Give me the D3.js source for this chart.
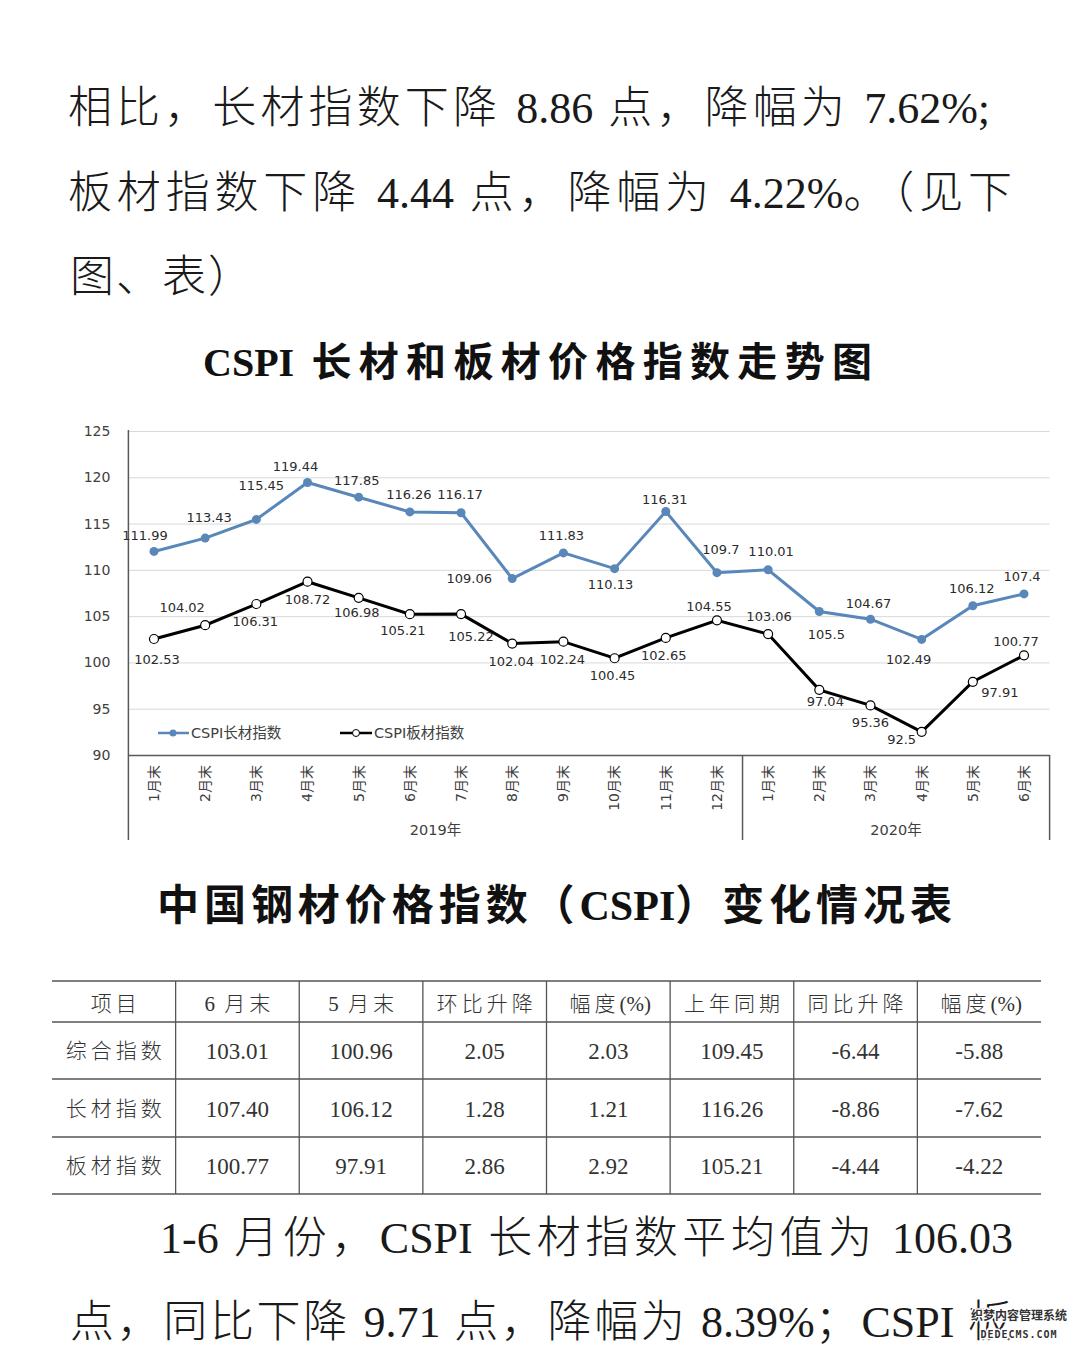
<!DOCTYPE html>
<html>
  <head>
    <meta charset="UTF-8" />
    <style>
      body {
        margin: 0;
        background: #fff;
      }
      svg {
        display: block;
      }
    </style>
  </head>
  <body>
    <svg></svg>
    <script src="https://d3js.org/d3.v7.min.js"></script>

    <script>
      let width = 1080,
        height = 1347;

      // text of the page
      const topLines = [
        "相比，长材指数下降 8.86 点，降幅为 7.62%;",
        "板材指数下降 4.44 点，降幅为 4.22%。（见下",
        "图、表）",
      ];
      const chartTitle = "CSPI 长材和板材价格指数走势图";
      const tableTitle = "中国钢材价格指数（CSPI）变化情况表";
      const bottomLines = [
        "1-6 月份，CSPI 长材指数平均值为 106.03",
        "点，同比下降 9.71 点，降幅为 8.39%；CSPI 板",
      ];

      // chart data
      const months = [
        "1月末", "2月末", "3月末", "4月末", "5月末", "6月末",
        "7月末", "8月末", "9月末", "10月末", "11月末", "12月末",
        "1月末", "2月末", "3月末", "4月末", "5月末", "6月末",
      ];
      const years = ["2019年", "2020年"];
      const yearCounts = [12, 6];
      const longIndex = [
        111.99, 113.43, 115.45, 119.44, 117.85, 116.26, 116.17, 109.06, 111.83,
        110.13, 116.31, 109.7, 110.01, 105.5, 104.67, 102.49, 106.12, 107.4,
      ];
      const flatIndex = [
        102.53, 104.02, 106.31, 108.72, 106.98, 105.21, 105.22, 102.04, 102.24,
        100.45, 102.65, 104.55, 103.06, 97.04, 95.36, 92.5, 97.91, 100.77,
      ];
      const yTicks = [90, 95, 100, 105, 110, 115, 120, 125];
      const seriesNames = ["CSPI长材指数", "CSPI板材指数"];

      // table data
      const tableHeader = [
        "项目", "6 月末", "5 月末", "环比升降", "幅度(%)", "上年同期", "同比升降", "幅度(%)",
      ];
      const rowNames = ["综合指数", "长材指数", "板材指数"];
      const juneEnd = ["103.01", "107.40", "100.77"];
      const mayEnd = ["100.96", "106.12", "97.91"];
      const momChange = ["2.05", "1.28", "2.86"];
      const momPct = ["2.03", "1.21", "2.92"];
      const lastYear = ["109.45", "116.26", "105.21"];
      const yoyChange = ["-6.44", "-8.86", "-4.44"];
      const yoyPct = ["-5.88", "-7.62", "-4.22"];

      // where the data labels sit relative to their points (dx, dy)
      const longLabelOffset = [
        [-9, -16], [4, -21], [5, -34], [-12, -16], [-2, -17], [-1, -17],
        [-1, -18], [-43, 0], [-2, -17], [-4, 16], [-1, -12], [4, -23],
        [3, -18], [7, 23], [-2, -16], [-13, 20], [-1, -17], [-2, -17],
      ];
      const flatLabelOffset = [
        [3, 20], [-23, -18], [-1, 17], [0, 18], [-2, 15], [-7, 16],
        [10, 22], [-1, 18], [-1, 18], [-2, 17], [-2, 18], [-8, -14],
        [1, -18], [6, 12], [0, 17], [-20, 8], [27, 11], [-8, -14],
      ];

      const serif = '"Liberation Serif", "Noto Sans CJK SC", serif';
      const sans = '"DejaVu Sans", "Noto Sans CJK SC", sans-serif';

      // cjk characters and spaces get the extra spacing, latin runs keep theirs
      const wideRe = /[\u3000-\u303f\u4e00-\u9fff\uff00-\uffef ]/;
      const runRe = /[\u3000-\u303f\u4e00-\u9fff\uff00-\uffef ]+|[^\u3000-\u303f\u4e00-\u9fff\uff00-\uffef ]+/g;

      // writes a line as runs and spreads the wide runs so the line
      // reaches `target` px (or uses a fixed spacing when target is null)
      function mixedText(sel, str, target, fixed) {
        const parts = str.match(runRe);
        sel
          .selectAll("tspan")
          .data(parts)
          .enter()
          .append("tspan")
          .text((d) => d);
        let ls = fixed || 0;
        if (target) {
          const natural = sel.node().getComputedTextLength();
          const n = str.split("").filter((c) => wideRe.test(c)).length;
          const endsWide = wideRe.test(str[str.length - 1]) ? 1 : 0;
          ls = (target - natural) / (n - endsWide);
        }
        sel
          .selectAll("tspan")
          .filter((d) => wideRe.test(d))
          .attr("letter-spacing", ls);
      }

      let svg = d3.select("svg").attr("width", width).attr("height", height);
      svg.append("rect").attr("width", width).attr("height", height).attr("fill", "#fff");

      // paragraph above
      const topPos = [
        { x: 68, y: 108, len: 922 },
        { x: 68, y: 193, len: 944 },
        { x: 70, y: 277, len: null },
      ];
      topLines.forEach((t, i) => {
        svg
          .append("text")
          .attr("x", topPos[i].x)
          .attr("y", topPos[i].y)
          .attr("dominant-baseline", "central")
          .attr("font-family", serif)
          .attr("font-weight", 300)
          .attr("font-size", 44)
          .attr("fill", "#1a1a1a")
          .call(mixedText, t, topPos[i].len, 2);
      });

      // titles
      svg
        .append("text")
        .attr("x", 203)
        .attr("y", 362)
        .attr("dominant-baseline", "central")
        .attr("font-family", serif)
        .attr("font-weight", "bold")
        .attr("font-size", 40)
        .attr("fill", "#111")
        .call(mixedText, chartTitle, 669);

      svg
        .append("text")
        .attr("x", 157)
        .attr("y", 906)
        .attr("dominant-baseline", "central")
        .attr("font-family", serif)
        .attr("font-weight", "bold")
        .attr("font-size", 42)
        .attr("fill", "#111")
        .call(mixedText, tableTitle, 795);

      // ---------- chart ----------
      const left = 128.4,
        right = 1049.6;
      const x = d3.scaleBand().domain(d3.range(months.length)).range([left, right]);
      const y = d3.scaleLinear().domain([90, 125]).range([755, 431]);
      const cx = (i) => x(i) + x.bandwidth() / 2;

      let chart = svg.append("g").attr("class", "chart");

      // gridlines + y labels
      chart
        .append("g")
        .attr("transform", "translate(" + left + ",0)")
        .call(
          d3.axisLeft(y).tickValues(yTicks).tickSize(-(right - left)).tickPadding(18)
        )
        .call((g) => g.select(".domain").remove())
        .call((g) => g.selectAll("line").attr("stroke", "#d9d9d9").attr("stroke-width", 1))
        .call((g) =>
          g
            .selectAll("text")
            .attr("font-family", sans)
            .attr("font-size", 14)
            .attr("fill", "#404040")
        );

      // x axis with rotated month labels
      chart
        .append("g")
        .attr("transform", "translate(0,755)")
        .call(
          d3
            .axisBottom(x)
            .tickSize(0)
            .tickSizeOuter(0)
            .tickFormat((i) => months[i])
        )
        .call((g) => g.select(".domain").attr("stroke", "#595959").attr("stroke-width", 1.5))
        .call((g) =>
          g
            .selectAll("text")
            .attr("transform", "rotate(-90)")
            .attr("text-anchor", "end")
            .attr("x", -10)
            .attr("y", 0)
            .attr("dy", "0.35em")
            .attr("font-family", sans)
            .attr("font-size", 14)
            .attr("fill", "#404040")
        );

      // left axis line
      chart
        .append("line")
        .attr("x1", left)
        .attr("x2", left)
        .attr("y1", y(125) - 1)
        .attr("y2", 840)
        .attr("stroke", "#595959")
        .attr("stroke-width", 1.5);

      // year groups
      let bounds = [0];
      yearCounts.forEach((c) => bounds.push(bounds[bounds.length - 1] + c));
      const bx = (b) => (b < months.length ? x(b) : right);

      chart
        .selectAll(".sep")
        .data(bounds.slice(1))
        .enter()
        .append("line")
        .attr("x1", bx)
        .attr("x2", bx)
        .attr("y1", 755)
        .attr("y2", 840)
        .attr("stroke", "#595959")
        .attr("stroke-width", 1.5);

      chart
        .selectAll(".year")
        .data(years)
        .enter()
        .append("text")
        .attr("x", (d, i) => (bx(bounds[i]) + bx(bounds[i + 1])) / 2)
        .attr("y", 830)
        .attr("text-anchor", "middle")
        .attr("dominant-baseline", "central")
        .attr("font-family", sans)
        .attr("font-size", 14.5)
        .attr("fill", "#404040")
        .text((d) => d);

      const line = d3
        .line()
        .x((d, i) => cx(i))
        .y((d) => y(d));

      const blue = "#5a87ba";

      // long products series
      chart
        .append("path")
        .datum(longIndex)
        .attr("d", line)
        .attr("fill", "none")
        .attr("stroke", blue)
        .attr("stroke-width", 3);
      chart
        .selectAll(".ldot")
        .data(longIndex)
        .enter()
        .append("circle")
        .attr("cx", (d, i) => cx(i))
        .attr("cy", (d) => y(d))
        .attr("r", 4.5)
        .attr("fill", blue);

      // flat products series
      chart
        .append("path")
        .datum(flatIndex)
        .attr("d", line)
        .attr("fill", "none")
        .attr("stroke", "#000")
        .attr("stroke-width", 3);
      chart
        .selectAll(".fdot")
        .data(flatIndex)
        .enter()
        .append("circle")
        .attr("cx", (d, i) => cx(i))
        .attr("cy", (d) => y(d))
        .attr("r", 4.5)
        .attr("fill", "#fff")
        .attr("stroke", "#000")
        .attr("stroke-width", 1.2);

      // data labels
      function labels(data, offs) {
        chart
          .append("g")
          .selectAll("text")
          .data(data)
          .enter()
          .append("text")
          .attr("x", (d, i) => cx(i) + offs[i][0])
          .attr("y", (d, i) => y(d) + offs[i][1])
          .attr("text-anchor", "middle")
          .attr("dominant-baseline", "central")
          .attr("font-family", sans)
          .attr("font-size", 13)
          .attr("fill", "#2b2b2b")
          .text((d) => d);
      }
      labels(longIndex, longLabelOffset);
      labels(flatIndex, flatLabelOffset);

      // legend
      let legend = chart.append("g").attr("transform", "translate(0,733)");
      legend
        .append("line")
        .attr("x1", 158)
        .attr("x2", 189)
        .attr("stroke", blue)
        .attr("stroke-width", 2.5);
      legend.append("circle").attr("cx", 173).attr("r", 3.5).attr("fill", blue);
      legend
        .append("line")
        .attr("x1", 340)
        .attr("x2", 372)
        .attr("stroke", "#000")
        .attr("stroke-width", 2.5);
      legend
        .append("circle")
        .attr("cx", 356)
        .attr("r", 3.5)
        .attr("fill", "#fff")
        .attr("stroke", "#000")
        .attr("stroke-width", 1);
      legend
        .selectAll("text")
        .data(seriesNames)
        .enter()
        .append("text")
        .attr("x", (d, i) => (i == 0 ? 191 : 374))
        .attr("dominant-baseline", "central")
        .attr("font-family", sans)
        .attr("font-size", 14.5)
        .attr("fill", "#404040")
        .text((d) => d);

      // ---------- table ----------
      const tx0 = 52,
        tx1 = 1041;
      const colW = (tx1 - tx0) / tableHeader.length;
      const hLines = [981, 1022, 1079, 1137, 1194];
      const rowY = [1051, 1109, 1166];
      const columns = [juneEnd, mayEnd, momChange, momPct, lastYear, yoyChange, yoyPct];

      let table = svg.append("g");
      table
        .selectAll(".h")
        .data(hLines)
        .enter()
        .append("line")
        .attr("x1", tx0)
        .attr("x2", tx1)
        .attr("y1", (d) => d)
        .attr("y2", (d) => d)
        .attr("stroke", "#555")
        .attr("stroke-width", 1.3);
      table
        .selectAll(".v")
        .data(d3.range(1, tableHeader.length))
        .enter()
        .append("line")
        .attr("x1", (d) => tx0 + d * colW)
        .attr("x2", (d) => tx0 + d * colW)
        .attr("y1", hLines[0])
        .attr("y2", hLines[hLines.length - 1])
        .attr("stroke", "#555")
        .attr("stroke-width", 1.3);

      tableHeader.forEach((h, i) => {
        table
          .append("text")
          .attr("x", tx0 + (i + 0.5) * colW + 2)
          .attr("y", 1004)
          .attr("text-anchor", "middle")
          .attr("dominant-baseline", "central")
          .attr("font-family", serif)
          .attr("font-weight", 300)
          .attr("font-size", 21)
          .attr("fill", "#333")
          .call(mixedText, h, null, 4);
      });

      table
        .selectAll(".rname")
        .data(rowNames)
        .enter()
        .append("text")
        .attr("x", tx0 + colW / 2 + 2)
        .attr("y", (d, i) => rowY[i])
        .attr("text-anchor", "middle")
        .attr("dominant-baseline", "central")
        .attr("font-family", serif)
        .attr("font-weight", 300)
        .attr("font-size", 21)
        .attr("letter-spacing", 4)
        .attr("fill", "#333")
        .text((d) => d);

      columns.forEach((col, c) => {
        table
          .append("g")
          .selectAll("text")
          .data(col)
          .enter()
          .append("text")
          .attr("x", tx0 + (c + 1.5) * colW)
          .attr("y", (d, i) => rowY[i])
          .attr("text-anchor", "middle")
          .attr("dominant-baseline", "central")
          .attr("font-family", serif)
          .attr("font-size", 23)
          .attr("fill", "#333")
          .text((d) => d);
      });

      // paragraph below
      const bottomPos = [
        { x: 160, y: 1238, len: 853 },
        { x: 70, y: 1322, len: 942 },
      ];
      bottomLines.forEach((t, i) => {
        svg
          .append("text")
          .attr("x", bottomPos[i].x)
          .attr("y", bottomPos[i].y)
          .attr("dominant-baseline", "central")
          .attr("font-family", serif)
          .attr("font-weight", 300)
          .attr("font-size", 44)
          .attr("fill", "#1a1a1a")
          .call(mixedText, t, bottomPos[i].len);
      });

      // site watermark in the corner
      let wm = svg.append("g").attr("transform", "translate(1019,0)");
      wm.append("text")
        .attr("y", 1316)
        .attr("text-anchor", "middle")
        .attr("dominant-baseline", "central")
        .attr("font-family", sans)
        .attr("font-weight", "bold")
        .attr("font-size", 12)
        .attr("fill", "#333")
        .attr("stroke", "#fff")
        .attr("stroke-width", 3)
        .attr("paint-order", "stroke")
        .text("织梦内容管理系统");
      wm.append("text")
        .attr("y", 1334)
        .attr("text-anchor", "middle")
        .attr("dominant-baseline", "central")
        .attr("font-family", '"DejaVu Sans Mono", monospace')
        .attr("font-weight", "bold")
        .attr("font-size", 10)
        .attr("letter-spacing", 1)
        .attr("fill", "#333")
        .attr("stroke", "#fff")
        .attr("stroke-width", 3)
        .attr("paint-order", "stroke")
        .text("DEDECMS.COM");
    </script>
  </body>
</html>
